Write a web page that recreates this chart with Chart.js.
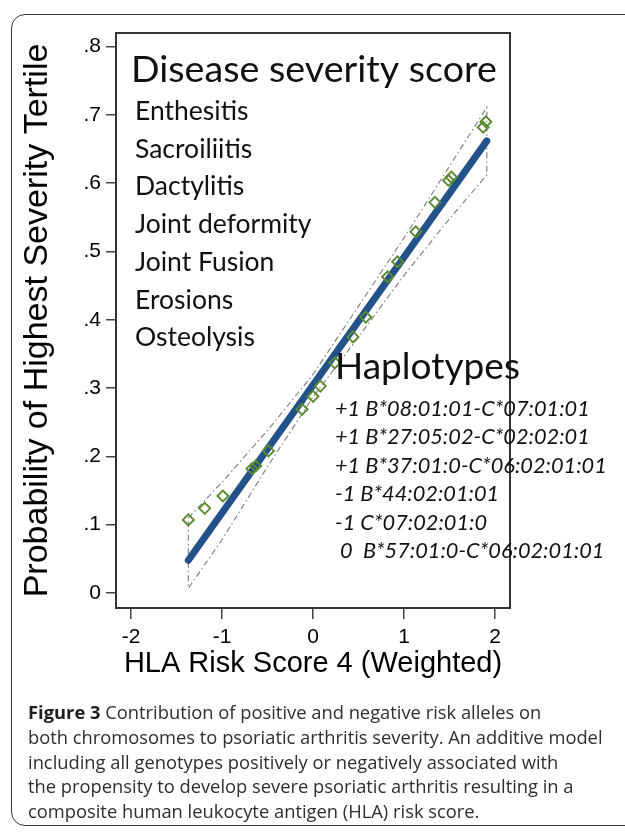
<!DOCTYPE html>
<html><head><meta charset="utf-8">
<script src="https://cdn.jsdelivr.net/npm/chart.js@4/dist/chart.umd.min.js"></script>
<style>
html,body{margin:0;padding:0;background:#fff;width:625px;height:832px;overflow:hidden}
#wrap{position:relative;width:625px;height:832px}
#box{position:absolute;left:11px;top:14px;width:700px;height:812px;border:1.5px solid #3a3a3a;border-radius:14px;box-sizing:border-box}
canvas{position:absolute;left:0;top:0}
#caption{position:absolute;left:28px;top:700px;font-family:"Open Sans","Noto Sans",sans-serif;color:#2e2e2e;line-height:24.8px;white-space:nowrap;font-size:18px}
#caption b{color:#1e1e1e}
</style></head>
<body><div id="wrap"><div id="box"></div><canvas id="c" width="625" height="832"></canvas>
<div id="caption"></div></div>
<script>
// ---- data ----
const xTicks = [-2, -1, 0, 1, 2];
const xTickLabels = ['-2', '-1', '0', '1', '2'];
const yTicks = [0, 0.1, 0.2, 0.3, 0.4, 0.5, 0.6, 0.7, 0.8];
const yTickLabels = ['0', '.1', '.2', '.3', '.4', '.5', '.6', '.7', '.8'];

const scoreX = [-1.37, -1.19, -0.99, -0.67, -0.63, -0.49, -0.12, 0.00, 0.08, 0.24, 0.44, 0.58, 0.82, 0.93, 1.13, 1.34, 1.49, 1.52, 1.87, 1.90];
const probY  = [0.107, 0.124, 0.142, 0.182, 0.186, 0.208, 0.269, 0.288, 0.303, 0.337, 0.375, 0.404, 0.463, 0.485, 0.529, 0.572, 0.604, 0.609, 0.682, 0.690];

const fitX = [-1.37, 1.91];
const fitY = [0.048, 0.662];

const ciX     = [-1.37, -1.0, -0.5, 0.0, 0.5, 1.0, 1.5, 1.91];
const ciUpper = [0.110, 0.162, 0.238, 0.320, 0.420, 0.520, 0.625, 0.711];
const ciLower = [0.007, 0.078, 0.185, 0.287, 0.375, 0.465, 0.548, 0.612];

const severityTitle = 'Disease severity score';
const severityItems = ['Enthesitis', 'Sacroiliitis', 'Dactylitis', 'Joint deformity', 'Joint Fusion', 'Erosions', 'Osteolysis'];
const haploTitle = 'Haplotypes';
const haplotypes = ['+1 B*08:01:01-C*07:01:01', '+1 B*27:05:02-C*02:02:01', '+1 B*37:01:0-C*06:02:01:01', '-1 B*44:02:01:01', '-1 C*07:02:01:0', ' 0  B*57:01:0-C*06:02:01:01'];

const xTitle = 'HLA Risk Score 4 (Weighted)';
const yTitle = 'Probability of Highest Severity Tertile';
const captionBold = 'Figure 3';
const captionLines = [
  ' Contribution of positive and negative risk alleles on',
  'both chromosomes to psoriatic arthritis severity. An additive model',
  'including all genotypes positively or negatively associated with',
  'the propensity to develop severe psoriatic arthritis resulting in a',
  'composite human leukocyte antigen (HLA) risk score.'
];

// ---- build datasets ----
const points = scoreX.map((x, i) => ({x, y: probY[i]}));
const fitPts = fitX.map((x, i) => ({x, y: fitY[i]}));
const ciPoly = ciX.map((x, i) => ({x, y: ciUpper[i]}))
  .concat(ciX.map((x, i) => ({x, y: ciLower[i]})).reverse());
ciPoly.push({x: ciX[0], y: ciUpper[0]});

const ANN_FONT = 'Lato, "Open Sans", sans-serif';
function fitSize(ctx, text, target, style) {
  ctx.font = style + ' 100px ' + ANN_FONT;
  return 100 * target / ctx.measureText(text).width;
}

const frame = {
  id: 'frame',
  afterDatasetsDraw(chart) {
    const {ctx, chartArea: a} = chart;
    ctx.save();
    ctx.strokeStyle = '#353535';
    ctx.lineWidth = 2;
    ctx.strokeRect(a.left, a.top, a.right - a.left, a.bottom - a.top);
    ctx.restore();
  }
};

const annot = {
  id: 'annot',
  afterDraw(chart) {
    const {ctx, chartArea: a} = chart;
    ctx.save();
    ctx.fillStyle = '#111';
    ctx.textAlign = 'left';
    ctx.textBaseline = 'alphabetic';
    let s = fitSize(ctx, severityTitle, 366, '');
    ctx.font = s + 'px ' + ANN_FONT;
    ctx.fillText(severityTitle, a.left + 15, a.top + 49);
    s = fitSize(ctx, 'Osteolysis', 120, '');
    ctx.font = s + 'px ' + ANN_FONT;
    severityItems.forEach((t, i) => ctx.fillText(t, a.left + 19, a.top + 87 + i * 37.7));
    s = fitSize(ctx, haploTitle, 185, '');
    ctx.font = s + 'px ' + ANN_FONT;
    ctx.fillText(haploTitle, a.left + 219, a.top + 346);
    s = fitSize(ctx, haplotypes[0], 255, 'italic');
    ctx.font = 'italic ' + s + 'px ' + ANN_FONT;
    haplotypes.forEach((t, i) => ctx.fillText(t, a.left + 219, a.top + 383 + i * 28.4));
    ctx.restore();
  }
};

const tickFont = {family: '"Liberation Sans", Arial, sans-serif', size: 21};

new Chart(document.getElementById('c'), {
  type: 'scatter',
  data: {
    datasets: [
      {data: points, pointStyle: 'rectRot', pointRadius: 5.5, borderColor: '#5b8a30', backgroundColor: 'rgba(0,0,0,0)', borderWidth: 1.9, pointHoverRadius: 5.5},
      {data: fitPts, showLine: true, pointRadius: 0, borderColor: '#23518a', borderWidth: 7, borderCapStyle: 'round'},
      {data: ciPoly, showLine: true, pointRadius: 0, borderColor: '#737d83', borderWidth: 1.1, borderDash: [6, 3, 1.5, 3]}
    ]
  },
  options: {
    responsive: false,
    devicePixelRatio: 1,
    animation: false,
    events: [],
    layout: {padding: {left: 0, right: 115, top: 33, bottom: 0}},
    plugins: {legend: {display: false}, tooltip: {enabled: false}},
    scales: {
      x: {
        type: 'linear', min: -2.165, max: 2.165,
        afterBuildTicks: s => { s.ticks = xTicks.map(v => ({value: v})); },
        afterFit: s => { s.height = 224; },
        ticks: {font: tickFont, color: '#000', padding: 6, autoSkip: false, maxRotation: 0,
                callback: v => xTickLabels[xTicks.indexOf(v)]},
        grid: {drawOnChartArea: false, drawTicks: true, tickLength: 11, color: '#444', lineWidth: 1.5},
        border: {display: false},
        title: {display: true, text: xTitle, color: '#000',
                font: {family: '"Liberation Sans", Arial, sans-serif', size: 29, lineHeight: 1.2},
                padding: {top: 0, bottom: 151}}
      },
      y: {
        type: 'linear', min: -0.022, max: 0.82,
        afterBuildTicks: s => { s.ticks = yTicks.map(v => ({value: v})); },
        afterFit: s => { s.width = 116; },
        ticks: {font: tickFont, color: '#000', padding: 5, autoSkip: false,
                callback: v => yTickLabels[yTicks.indexOf(v)]},
        grid: {drawOnChartArea: false, drawTicks: true, tickLength: 10, color: '#444', lineWidth: 1.5},
        border: {display: false},
        title: {display: true, text: yTitle, color: '#000',
                font: {family: '"Liberation Sans", Arial, sans-serif', size: 34, lineHeight: 1.2},
                padding: {top: 17, bottom: 0}}
      }
    }
  },
  plugins: [frame, annot]
});

// caption
const cap = document.getElementById('caption');
cap.innerHTML = '<div><b>' + captionBold + '</b>' + captionLines[0] + '</div>' +
  captionLines.slice(1).map(t => '<div><span>' + t + '</span></div>').join('');
const sw = cap.children[1].firstChild.getBoundingClientRect().width;
cap.style.fontSize = (18 * 575 / sw) + 'px';
</script>
</body></html>
